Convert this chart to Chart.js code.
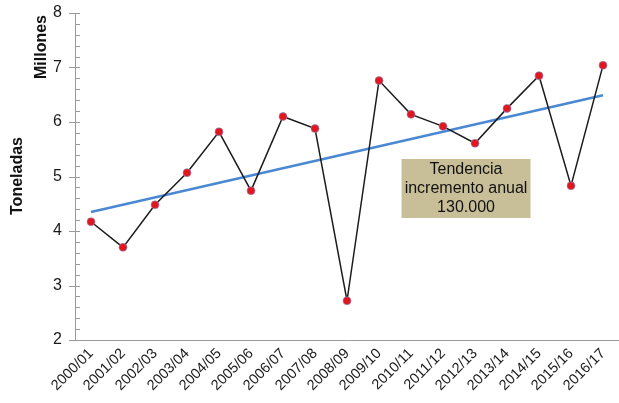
<!DOCTYPE html>
<html>
<head>
<meta charset="utf-8">
<script src="https://cdn.jsdelivr.net/npm/chart.js@4.4.1/dist/chart.umd.min.js"></script>
<style>
  html, body { margin: 0; padding: 0; background: #fff; }
</style>
</head>
<body>
<canvas id="myChart" width="619" height="403"></canvas>
<script>
/* datos de la grafica */
var campanas = ['2000/01', '2001/02', '2002/03', '2003/04', '2004/05', '2005/06', '2006/07', '2007/08', '2008/09',
    '2009/10', '2010/11', '2011/12', '2012/13', '2013/14', '2014/15', '2015/16', '2016/17'];
var toneladas = [4.17, 3.70, 4.48, 5.07, 5.82, 4.74, 6.10, 5.88, 2.72, 6.76, 6.14, 5.92, 5.61, 6.25, 6.85, 4.83, 7.04];
// recta de tendencia: solo extremos
var tendencia = [4.35, null, null, null, null, null, null, null, null, null, null, null, null, null, null, null, 6.49];
var yMin = 2, yMax = 8;
var cuadroTexto = ['Tendencia', 'incremento anual', '130.000'];

var fontFam = '"Liberation Sans", Arial, sans-serif';

/* ticks menores, titulos del eje y cuadro de texto */
var extras = {
    id: 'extras',
    afterDraw: function(chart) {
        var c = chart.ctx;
        var y = chart.scales.y, x = chart.scales.x;
        var ax = chart.chartArea.left;
        c.save();
        c.strokeStyle = '#9a9a9a';
        c.lineWidth = 1;
        for (var v = yMin * 5; v <= yMax * 5; v++) {
            var py = Math.round(y.getPixelForValue(v / 5)) + 0.5;
            c.beginPath();
            if (v % 5 === 0) {
                c.moveTo(ax - 6, py); c.lineTo(ax + 5, py);
            } else {
                c.moveTo(ax, py); c.lineTo(ax + 5, py);
            }
            c.stroke();
        }
        // titulos
        c.fillStyle = '#111';
        c.font = 'bold 16px ' + fontFam;
        c.textAlign = 'center';
        c.textBaseline = 'middle';
        c.save();
        c.translate(18, 176);
        c.rotate(-Math.PI / 2);
        c.fillText('Toneladas', 0, 0);
        c.restore();
        c.save();
        c.translate(42, 47);
        c.rotate(-Math.PI / 2);
        c.fillText('Millones', 0, 0);
        c.restore();
        // cuadro
        var cx = x.getPixelForValue(11.72), cy = y.getPixelForValue(4.78);
        var w = 129, h = 59;
        c.fillStyle = '#c8bf98';
        c.fillRect(cx - w / 2, cy - h / 2, w, h);
        c.fillStyle = '#111';
        c.font = '16px ' + fontFam;
        for (var i = 0; i < cuadroTexto.length; i++) {
            c.fillText(cuadroTexto[i], cx, cy + (i - 1) * 19);
        }
        c.restore();
    }
};

var ctx = document.getElementById('myChart').getContext('2d');
var myChart = new Chart(ctx, {
    type: 'line',
    data: {
        labels: campanas,
        datasets: [{
            data: toneladas,
            borderColor: '#1c1c1c',
            borderWidth: 1.5,
            pointRadius: 4,
            pointBackgroundColor: '#e1161f',
            pointBorderColor: '#8d90c0',
            pointBorderWidth: 0.6,
            tension: 0
        }, {
            data: tendencia,
            borderColor: '#4a88d4',
            borderWidth: 2.6,
            pointRadius: 0,
            spanGaps: true,
            tension: 0
        }]
    },
    options: {
        responsive: false,
        animation: false,
        devicePixelRatio: 1,
        layout: { autoPadding: false, padding: { left: 0, right: 0, top: 13, bottom: 0 } },
        plugins: {
            legend: { display: false },
            tooltip: { enabled: false }
        },
        scales: {
            x: {
                offset: true,
                grid: { display: false, drawTicks: false },
                border: { color: '#9a9a9a', width: 1 },
                ticks: {
                    autoSkip: false,
                    maxRotation: 45,
                    minRotation: 45,
                    padding: 5,
                    color: '#1a1a1a',
                    font: { family: fontFam, size: 14.5 }
                },
                afterFit: function(s) { s.height = 63; s.paddingLeft = 0; s.paddingRight = 0; }
            },
            y: {
                min: yMin,
                max: yMax,
                grid: { display: false, drawTicks: false },
                border: { color: '#9a9a9a', width: 1 },
                ticks: {
                    stepSize: 1,
                    padding: 13,
                    color: '#1a1a1a',
                    font: { family: fontFam, size: 16 }
                },
                afterFit: function(s) { s.width = 75; s.paddingTop = 0; s.paddingBottom = 0; }
            }
        }
    },
    plugins: [extras]
});
</script>
</body>
</html>
